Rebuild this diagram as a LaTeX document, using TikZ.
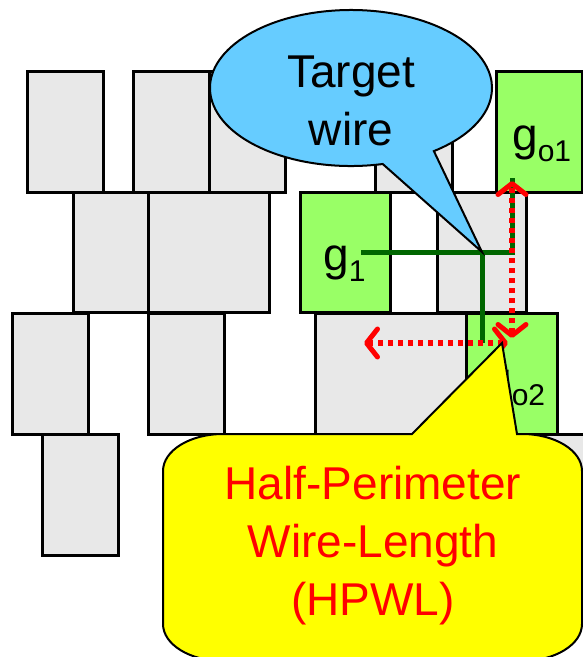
\documentclass[tikz,border=0pt]{standalone}
\usepackage{fontspec}
\setmainfont{Liberation Sans}
\usepackage{xcolor}
\usetikzlibrary{arrows.meta,calc}
\definecolor{cellgrey}{HTML}{E8E8E8}
\definecolor{gatelime}{HTML}{99FF66}
\definecolor{wiregreen}{HTML}{006600}
\definecolor{tipblue}{HTML}{66CCFF}
\definecolor{tipyellow}{HTML}{FFFF00}
\definecolor{hpwlred}{HTML}{FF0000}

\begin{document}
\begin{tikzpicture}[
  x=1pt, y=-1pt,
  cell/.style={
    rectangle, draw=black, line width=3pt,
    fill=cellgrey, inner sep=0pt
  },
  gate/.style={cell, fill=gatelime},
  gatelabel/.style={anchor=base west, inner sep=0pt, font=\fontsize{46}{50}\selectfont},
  wire/.style={draw=wiregreen, line width=5pt},
  hpwl/.style={<->, >={Straight Barb[length=11pt,width=28pt,line width=5pt,round]},
    draw=hpwlred, line width=5.5pt, dash pattern=on 5pt off 5pt},
  callout/.style={draw=black, line width=2pt},
  callouttext/.style={align=center, inner sep=0pt, font=\fontsize{46}{58}\selectfont}
]
\useasboundingbox (0,0) rectangle (583,657);
\clip (0,0) rectangle (583,657);

% --- PLACEMENT (grey cells) ---
\foreach \xa/\ya/\xb/\yb [count=\k] in {
    27/71/103/192, 133/71/209/192, 209/71/285/192, 375/71/452/192,
    73/192/148/312, 148/192/269/312, 437/192/526/312,
    12/313/88/434, 148/313/224/434, 315/313/466/434,
    42/434/118/555, 466/434/600/555} {
  \node[cell, minimum width={\xb-\xa}, minimum height={\yb-\ya}]
    (cell\k) at ({(\xa+\xb)/2},{(\ya+\yb)/2}) {};
}

% Gates on the net
\node[gate, minimum width=90, minimum height=120] (g1) at (345,252) {};
\node[gate, minimum width=86, minimum height=121] (go1) at (539,131.5) {};
\node[gate, minimum width=91, minimum height=121] (go2) at (511.5,373.5) {};

\node[gatelabel] (g1lab) at (323,270) {g\raisebox{-11pt}{\fontsize{30}{30}\selectfont 1}};
\node[gatelabel] (go1lab) at (512,150) {g\raisebox{-11pt}{\fontsize{30}{30}\selectfont o1}};
\node[gatelabel] (go2lab) at (486,394) {g\raisebox{-11pt}{\fontsize{30}{30}\selectfont o2}};

% --- TARGET WIRE ---
\coordinate (g1pin) at (361,252);
\coordinate (trunk) at (482,252);
\coordinate (bend) at (512,252);
\coordinate (go1pin) at (512,178);
\coordinate (go2pin) at (482,343);

\draw[wire] (g1pin) -- (bend) -- (go1pin);
\draw[wire] (trunk) -- (go2pin);

% Bounding box spans (HPWL)
\coordinate (ytop) at (512,181);
\coordinate (ybot) at (512,338);
\coordinate (xleft) at (364,343);
\coordinate (xright) at (508,343);

\draw[hpwl] (ybot) -- (ytop);
\draw[hpwl] (xright) -- (xleft);

% --- CALLOUTS ---
\path[callout, fill=tipblue] ([shift={(351,88)}]77:141 and 78)
  arc[start angle=77, end angle=414, x radius=141, y radius=78]
  -- (trunk) -- cycle;
\node[callouttext] (targetlab) at (351,101) {Target\\wire};

\path[callout, fill=tipyellow] (412,434) -- (502,343) -- (517,434) -- (522,434)
  arc[start angle=270, end angle=360, x radius=60, y radius=37] -- (582,624)
  arc[start angle=0, end angle=90, x radius=60, y radius=37] -- (223,661)
  arc[start angle=90, end angle=180, x radius=60, y radius=37] -- (163,471)
  arc[start angle=180, end angle=270, x radius=60, y radius=37] -- cycle;
\node[callouttext, text=hpwlred] (hpwllab) at (373,546) {Half-Perimeter\\Wire-Length\\(HPWL)};

\end{tikzpicture}
\end{document}
